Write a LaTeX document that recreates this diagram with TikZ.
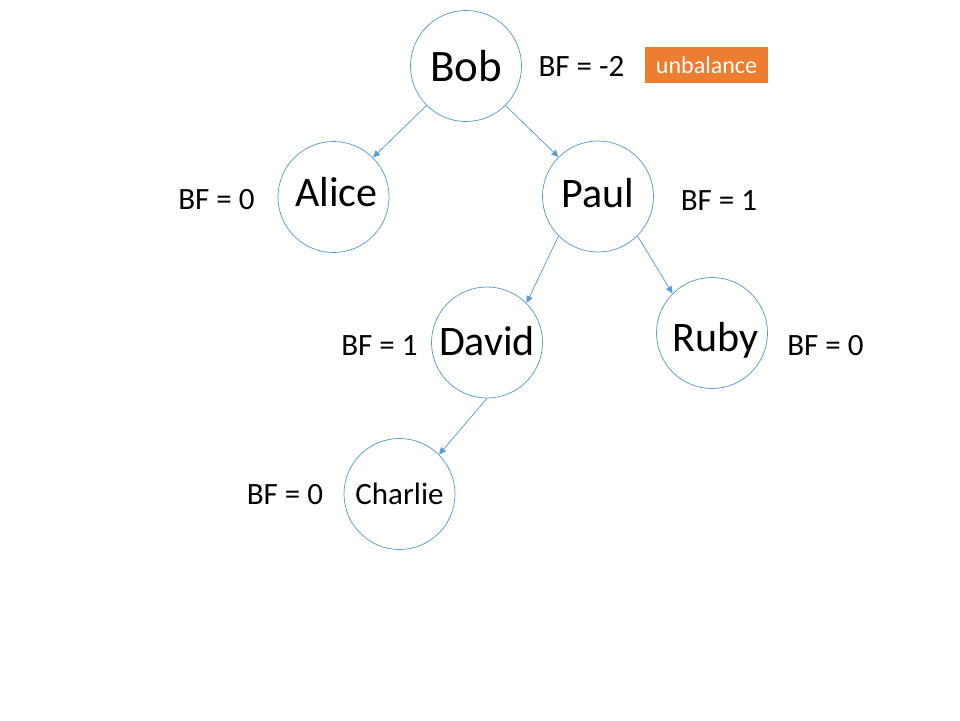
\documentclass[tikz,border=0pt]{standalone}
\usepackage{fontspec}
\setmainfont{Carlito}
\usetikzlibrary{arrows.meta}
\definecolor{nodeblue}{HTML}{5B9BD5}
\definecolor{warnorange}{HTML}{ED7D31}
\begin{document}
\begin{tikzpicture}[x=1pt,y=-1pt,
  person/.style={draw=nodeblue,line width=0.75pt,circle,minimum size=111pt,inner sep=0pt,text depth=0pt,font=\fontsize{42}{50}\selectfont},
  link/.style={draw=nodeblue,line width=0.75pt,-{Triangle[length=7pt,width=6.5pt]}},
  bf/.style={inner sep=0pt,font=\fontsize{31}{37}\selectfont}]
\useasboundingbox (0,0) rectangle (960,720);
% tree nodes
\node [person,text height=31pt,font=\fontsize{45}{54}\selectfont] (bob) at (466,66) {Bob};
\node [person,text height=19pt] (alice) at (333.5,197) {\hspace*{6pt}Alice};
\node [person,text height=21pt] (paul) at (598,196.5) {Paul};
\node [person,text height=25pt] (david) at (487,342.5) {David};
\node [person,text height=37pt] (ruby) at (712,333) {\hspace*{7pt}Ruby};
\node [person,text height=21pt,font=\fontsize{31}{37}\selectfont] (charlie) at (399.5,494) {Charlie};
% balance factors
\node [bf] (bfbob) at (581.5,66) {BF = -2};
\node [bf] (bfalice) at (216.5,199.5) {BF = 0};
\node [bf] (bfpaul) at (719,200.5) {BF = 1};
\node [bf] (bfdavid) at (379.5,346) {BF = 1};
\node [bf] (bfruby) at (825.5,346) {BF = 0};
\node [bf] (bfcharlie) at (285,494.5) {BF = 0};
\node [fill=warnorange,text=white,minimum width=123pt,minimum height=36pt,inner sep=0pt,
  font=\fontsize{24}{29}\selectfont] (unbal) at (706.5,65) {unbalance};
% edges
\draw [link] (bob.south west) -- (alice.north east);
\draw [link] (bob.south east) -- (paul.north west);
\draw [link] (paul.south west) -- (david.north east);
\draw [link] (paul.south east) -- (ruby.north west);
\draw [link] (david.south) -- (charlie.north east);
\end{tikzpicture}
\end{document}
